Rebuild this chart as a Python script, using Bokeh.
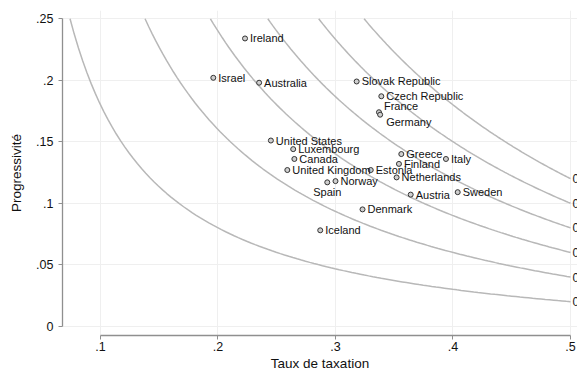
from bokeh.plotting import figure
from bokeh.models import ColumnDataSource, FixedTicker, Range1d, CustomJSTickFormatter
from bokeh.core.properties import value
from bokeh.embed import file_html
from bokeh.resources import INLINE

# ---- data ----
countries = ["Ireland", "Israel", "Australia", "Slovak Republic", "Czech Republic",
             "France", "Germany", "United States", "Luxembourg", "Canada",
             "United Kingdom", "Estonia", "Spain", "Norway", "Denmark", "Iceland",
             "Greece", "Finland", "Italy", "Netherlands", "Austria", "Sweden"]
tax_rate = [0.223, 0.196, 0.235, 0.318, 0.339,
            0.337, 0.338, 0.245, 0.264, 0.265,
            0.259, 0.330, 0.293, 0.300, 0.323, 0.287,
            0.356, 0.354, 0.394, 0.352, 0.364, 0.404]
progressivity = [0.234, 0.202, 0.198, 0.199, 0.187,
                 0.174, 0.172, 0.151, 0.144, 0.136,
                 0.127, 0.127, 0.117, 0.118, 0.095, 0.078,
                 0.140, 0.132, 0.136, 0.121, 0.107, 0.109]
# iso-redistribution levels (value of K*t/(1-t)), labelled at t = .5
iso_levels = [0.02, 0.04, 0.06, 0.08, 0.10, 0.12]
iso_labels = ["0.02", "0.04", "0.06", "0.08", "0.10", "0.12"]
x_ticks = [0.1, 0.2, 0.3, 0.4, 0.5]
y_ticks = [0.0, 0.05, 0.10, 0.15, 0.20, 0.25]

# label placement (style): default is to the right of the marker
label_place = {"France": "above", "Germany": "below", "Spain": "under"}

FONT = "Liberation Sans"

p = figure(width=577, height=373,
           x_range=Range1d(0.06766, 0.50596), y_range=Range1d(-0.00754, 0.25673),
           output_backend="svg", toolbar_location=None,
           min_border_left=62, min_border_right=0, min_border_top=10, min_border_bottom=37)
p.outline_line_color = None
p.background_fill_color = "white"

# grid
p.xgrid.ticker = FixedTicker(ticks=x_ticks)
p.ygrid.ticker = FixedTicker(ticks=y_ticks)
for g in (p.xgrid, p.ygrid):
    g.grid_line_color = "#efefef"
    g.grid_line_width = 1

fmt = CustomJSTickFormatter(code="""
if (tick == 0) return "0";
return tick.toFixed(2).replace(/0+$/, '').replace(/^0/, '');
""")

# axes
for ax, ticks, bnds in ((p.xaxis[0], x_ticks, (0.1, 0.5)), (p.yaxis[0], y_ticks, (0.0, 0.25))):
    ax.ticker = FixedTicker(ticks=ticks)
    ax.formatter = fmt
    ax.bounds = bnds
    ax.axis_line_color = "#8f8f8f"
    ax.axis_line_width = 1.3
    ax.major_tick_line_color = "#8f8f8f"
    ax.major_tick_out = 4
    ax.major_tick_in = 0
    ax.minor_tick_line_color = None
    ax.major_label_text_font = FONT
    ax.major_label_text_font_size = "12.5px"
    ax.major_label_text_color = "#111111"
    ax.axis_label_text_font = FONT
    ax.axis_label_text_font_size = "13.5px"
    ax.axis_label_text_font_style = "normal"
    ax.axis_label_text_color = "#111111"

p.xaxis.axis_label = "Taux de taxation"
p.yaxis.axis_label = "Progressivité"
p.xaxis.major_label_standoff = 2
p.xaxis.axis_label_standoff = 2
p.yaxis.major_label_standoff = 5
p.yaxis.axis_label_standoff = 9

# iso curves: K = level * (1 - t) / t, drawn for t up to .5 and K up to .25
for lvl in iso_levels:
    t_start = lvl / (0.25 + lvl)
    n = 120
    ts = [t_start + (0.5 - t_start) * i / (n - 1) for i in range(n)]
    ks = [lvl * (1 - t) / t for t in ts]
    p.line(ts, ks, line_color="#b8b8b8", line_width=1.5)

p.text(x=[0.5] * len(iso_levels), y=iso_levels, text=iso_labels,
       x_offset=2, text_baseline="middle", text_align="left",
       text_font=value(FONT), text_font_size="12px", text_color="#222222")

# markers
src = ColumnDataSource(dict(x=tax_rate, y=progressivity, name=countries))
p.scatter("x", "y", source=src, size=5, marker="circle",
          line_color="#333333", fill_color="#cfcfcf", line_width=1)

groups = {"right": ([], [], []), "above": ([], [], []), "below": ([], [], []), "under": ([], [], [])}
for c, xv, yv in zip(countries, tax_rate, progressivity):
    g = groups[label_place.get(c, "right")]
    g[0].append(xv); g[1].append(yv); g[2].append(c)

style = dict(text_font=value(FONT), text_font_size="11px", text_color="#111111")
g = groups["right"]
p.text(x=g[0], y=g[1], text=g[2], x_offset=5, y_offset=0,
       text_align="left", text_baseline="middle", **style)
g = groups["above"]
p.text(x=g[0], y=g[1], text=g[2], x_offset=5, y_offset=-6,
       text_align="left", text_baseline="middle", **style)
g = groups["below"]
p.text(x=g[0], y=g[1], text=g[2], x_offset=6, y_offset=7,
       text_align="left", text_baseline="middle", **style)
g = groups["under"]
p.text(x=g[0], y=g[1], text=g[2], x_offset=0, y_offset=10,
       text_align="center", text_baseline="middle", **style)

open("out.html", "w").write(file_html(p, INLINE))
